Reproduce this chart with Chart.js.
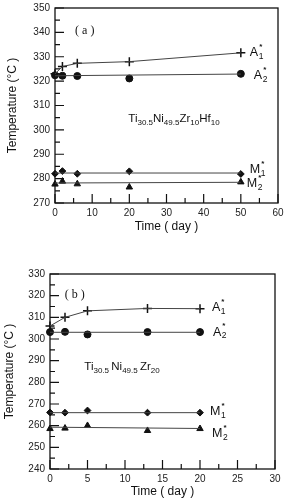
<!DOCTYPE html>
<html><head><meta charset="utf-8">
<script src="https://cdn.jsdelivr.net/npm/chart.js@4"></script>
<style>
html,body{margin:0;padding:0;background:#fff;width:284px;height:502px;overflow:hidden}
#wa{position:absolute;left:0;top:0;width:284px;height:240px}
#wb{position:absolute;left:0;top:250px;width:284px;height:252px}
</style></head><body>
<div id="wa"><canvas id="ca" width="284" height="240"></canvas></div>
<div id="wb"><canvas id="cb" width="284" height="252"></canvas></div>
<script>
// ---------- Data: panel (a) Ti30.5Ni49.5Zr10Hf10 ----------
const timesA = [0, 2, 6, 20, 50];
const a1A = [323, 326, 327.3, 328, 331.6];
const a2A = [322.4, 322.2, 322.1, 321.1, 323];
const m1A = [282, 283.1, 282, 283, 281.9];
const m2A = [277.7, 278.9, 277.8, 276.5, 278.6];
const fitTimesA = [0, 50];
const a2FitA = [322.2, 322.9];
const m1FitA = [282.3, 282.3];
const m2FitA = [278.2, 278.5];

// ---------- Data: panel (b) Ti30.5Ni49.5Zr20 ----------
const timesB = [0, 2, 5, 13, 20];
const a1B = [306, 310, 313, 314.1, 314];
const a2B = [303.2, 303.3, 302.1, 303.2, 303.2];
const m1B = [266.1, 266, 267, 266, 266];
const m2B = [258.6, 258.8, 260, 257.7, 258.6];
const fitTimesB = [0, 20];
const a2FitB = [303.1, 303.1];
const m1FitB = [266, 266];
const m2FitB = [259.3, 258.7];

// ---------- Labels ----------
const seriesNames = ['A', 'A', 'M', 'M'];
const seriesSubs = ['1', '2', '1', '2'];
const compA = [['Ti', '30.5'], ['Ni', '49.5'], ['Zr', '10'], ['Hf', '10']];
const compB = [['Ti', '30.5 '], ['Ni', '49.5 '], ['Zr', '20']];
const xTitle = 'Time ( day )';
const yTitle = 'Temperature (°C )';

const pts = (xs, ys) => xs.map((x, i) => ({x: x, y: ys[i]}));
const SANS = '"Liberation Sans", Arial, sans-serif';
const LINE = '#444';
const MARK = '#111';

function drawRich(ctx, parts, x, y, mainSize, subSize, center) {
  let w = 0;
  for (const [m, s] of parts) {
    ctx.font = mainSize + 'px ' + SANS; w += ctx.measureText(m).width;
    ctx.font = subSize + 'px ' + SANS; w += ctx.measureText(s).width;
  }
  let cx = center ? x - w / 2 : x;
  ctx.textBaseline = 'middle';
  ctx.textAlign = 'left';
  for (const [m, s] of parts) {
    ctx.font = mainSize + 'px ' + SANS; ctx.fillText(m, cx, y); cx += ctx.measureText(m).width;
    ctx.font = subSize + 'px ' + SANS; ctx.fillText(s, cx, y + 4); cx += ctx.measureText(s).width;
  }
}

const decor = {
  id: 'decor',
  beforeDatasetsDraw(chart, args, o) {
    const {ctx, chartArea: ca} = chart;
    const xs = chart.scales.x, ys = chart.scales.y;
    ctx.save();
    ctx.strokeStyle = '#111';
    ctx.lineWidth = 1.3;
    ctx.strokeRect(ca.left, ca.top, ca.right - ca.left, ca.bottom - ca.top);
    ctx.lineWidth = 1.2;
    ctx.beginPath();
    const xt = xs.ticks.map(t => t.value);
    xt.forEach((v, i) => {
      const px = xs.getPixelForValue(v);
      ctx.moveTo(px, ca.bottom); ctx.lineTo(px, ca.bottom - 9);
      if (i < xt.length - 1) {
        const mx = xs.getPixelForValue((v + xt[i + 1]) / 2);
        ctx.moveTo(mx, ca.bottom); ctx.lineTo(mx, ca.bottom - 5);
      }
    });
    const yt = ys.ticks.map(t => t.value);
    yt.forEach((v, i) => {
      const py = ys.getPixelForValue(v);
      ctx.moveTo(ca.left, py); ctx.lineTo(ca.left + 9, py);
      if (i < yt.length - 1) {
        const my = ys.getPixelForValue((v + yt[i + 1]) / 2);
        ctx.moveTo(ca.left, my); ctx.lineTo(ca.left + 5, my);
      }
    });
    ctx.stroke();
    ctx.restore();
  },
  afterDatasetsDraw(chart, args, o) {
    const {ctx} = chart;
    const xs = chart.scales.x, ys = chart.scales.y;
    ctx.save();
    ctx.fillStyle = '#111';
    ctx.font = '12px "Liberation Serif", "Times New Roman", serif';
    ctx.textAlign = 'center'; ctx.textBaseline = 'middle';
    ctx.fillText(o.panel, xs.getPixelForValue(o.panelAt[0]), ys.getPixelForValue(o.panelAt[1]));
    drawRich(ctx, o.comp, xs.getPixelForValue(o.compAt[0]), ys.getPixelForValue(o.compAt[1]), 11.5, 8, true);
    o.labels.forEach((lb, k) => {
      const meta = chart.getDatasetMeta(lb.ds);
      const p = meta.data[meta.data.length - 1];
      const x = p.x + lb.dx, y = p.y + lb.dy;
      ctx.textAlign = 'left'; ctx.textBaseline = 'middle';
      ctx.font = '12.5px ' + SANS;
      ctx.fillText(seriesNames[k], x, y);
      const w = ctx.measureText(seriesNames[k]).width;
      ctx.font = '8.5px ' + SANS;
      ctx.fillText(seriesSubs[k], x + w + 0.5, y + 4);
      ctx.font = 'bold 8px ' + SANS;
      ctx.fillText('*', x + w + 1, y - 6);
    });
    ctx.restore();
  }
};

function markerSet(data, style, r, bw) {
  return {type: 'scatter', data: data, showLine: false, pointStyle: style, pointRadius: r,
    pointHoverRadius: r, pointBackgroundColor: MARK, pointBorderColor: MARK, pointBorderWidth: bw, clip: false};
}
function lineSet(data) {
  return {type: 'scatter', data: data, showLine: true, borderColor: LINE, borderWidth: 1,
    pointRadius: 0, pointHoverRadius: 0, fill: false, tension: 0, clip: false};
}

function makeChart(id, g) {
  return new Chart(document.getElementById(id), {
    type: 'scatter',
    data: {datasets: g.datasets},
    options: {
      responsive: false, animation: false, events: [],
      layout: {padding: {left: 0, right: 284 - g.right, top: g.top, bottom: 0}},
      plugins: {legend: {display: false}, tooltip: {enabled: false}, decor: g.decor},
      scales: {
        x: {type: 'linear', min: g.xMin, max: g.xMax,
          ticks: {stepSize: g.xStep, color: '#222', font: {family: SANS, size: 10}, padding: 4, maxRotation: 0},
          grid: {display: false, drawTicks: false}, border: {display: false},
          title: {display: true, text: xTitle, color: '#111', font: {family: SANS, size: 12}, padding: {top: 0, bottom: g.xTitlePad}},
          afterFit(s) { s.height = g.H - g.bottom; s.paddingLeft = 0; s.paddingRight = 0; }
        },
        y: {type: 'linear', min: g.yMin, max: g.yMax,
          ticks: {stepSize: 10, color: '#222', font: {family: SANS, size: 10}, padding: 5},
          grid: {display: false, drawTicks: false}, border: {display: false},
          title: {display: true, text: yTitle, color: '#111', font: {family: SANS, size: 12}, padding: {top: g.yTitlePad, bottom: 0}},
          afterFit(s) { s.width = g.left; s.paddingTop = 0; s.paddingBottom = 0; }
        }
      }
    },
    plugins: [decor]
  });
}

makeChart('ca', {
  H: 240, left: 55, right: 279, top: 8, bottom: 203,
  xMin: 0, xMax: 60, xStep: 10, yMin: 270, yMax: 350,
  xTitlePad: 6, yTitlePad: 5,
  datasets: [
    lineSet(pts(timesA, a1A)),
    lineSet(pts(fitTimesA, a2FitA)),
    lineSet(pts(fitTimesA, m1FitA)),
    lineSet(pts(fitTimesA, m2FitA)),
    markerSet(pts(timesA, a1A), 'cross', 4.5, 1.5),
    markerSet(pts(timesA, a2A), 'circle', 3.5, 1),
    markerSet(pts(timesA, m1A), 'rectRot', 3.4, 1),
    markerSet(pts(timesA, m2A), 'triangle', 3.7, 1)
  ],
  decor: {panel: '( a )', panelAt: [8, 340.5], comp: compA, compAt: [32, 304.7],
    labels: [{ds: 4, dx: 9, dy: 0}, {ds: 5, dx: 13, dy: 2}, {ds: 6, dx: 9, dy: -4}, {ds: 7, dx: 6, dy: 2}]}
});

makeChart('cb', {
  H: 252, left: 50, right: 275, top: 24, bottom: 219,
  xMin: 0, xMax: 30, xStep: 5, yMin: 240, yMax: 330,
  xTitlePad: 3, yTitlePad: 2,
  datasets: [
    lineSet(pts(timesB, a1B)),
    lineSet(pts(fitTimesB, a2FitB)),
    lineSet(pts(fitTimesB, m1FitB)),
    lineSet(pts(fitTimesB, m2FitB)),
    markerSet(pts(timesB, a1B), 'cross', 4.5, 1.5),
    markerSet(pts(timesB, a2B), 'circle', 3.5, 1),
    markerSet(pts(timesB, m1B), 'rectRot', 3.4, 1),
    markerSet(pts(timesB, m2B), 'triangle', 3.7, 1)
  ],
  decor: {panel: '( b )', panelAt: [3.3, 320.5], comp: compB, compAt: [9.6, 287],
    labels: [{ds: 4, dx: 12, dy: -1}, {ds: 5, dx: 13, dy: 0}, {ds: 6, dx: 10, dy: -1}, {ds: 7, dx: 12, dy: 5}]}
});
</script>
</body></html>
